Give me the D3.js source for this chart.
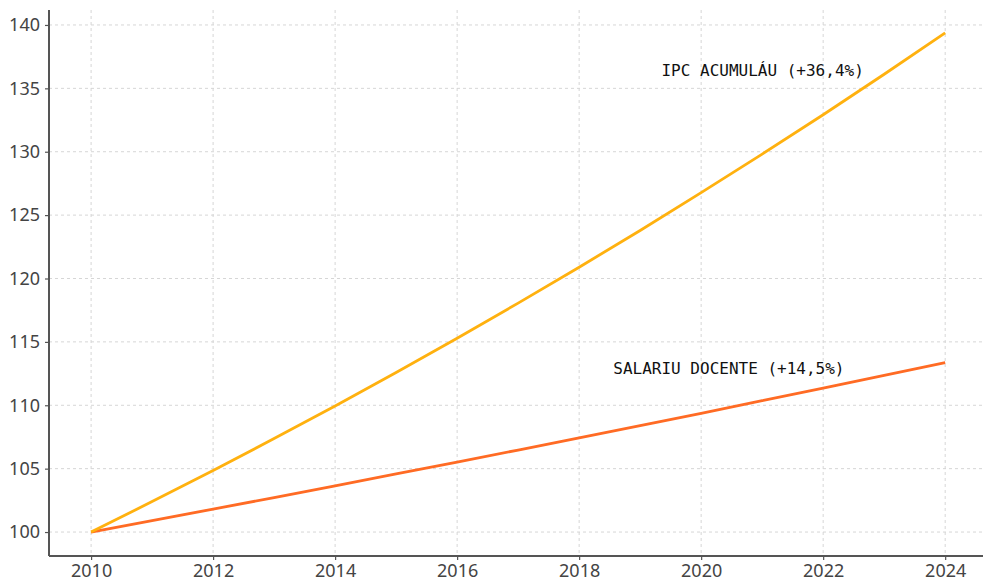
<!DOCTYPE html>
<html>
<head>
<meta charset="UTF-8">
<script src="https://d3js.org/d3.v7.min.js"></script>
<style>
  body { margin: 0; background: #fff; }
  .tick text { font-family: "Noto Sans", sans-serif; font-size: 18px; fill: #444; }
  .lbl { font-family: "DejaVu Sans Mono", monospace; font-size: 16px; fill: #111; }
</style>
</head>
<body>
<script>
    // datos
    var years = [2010, 2011, 2012, 2013, 2014, 2015, 2016, 2017, 2018, 2019, 2020, 2021, 2022, 2023, 2024];
    var ipc = [100, 102.40, 104.86, 107.37, 109.95, 112.59, 115.29, 118.06, 120.89, 123.79, 126.77, 129.81, 132.92, 136.11, 139.38];
    var salariu = [100, 100.90, 101.81, 102.72, 103.65, 104.58, 105.52, 106.47, 107.43, 108.40, 109.37, 110.36, 111.35, 112.35, 113.36];
    var xTicks = [2010, 2012, 2014, 2016, 2018, 2020, 2022, 2024];
    var yTicks = [100, 105, 110, 115, 120, 125, 130, 135, 140];
    var labels = ["IPC ACUMULÁU (+36,4%)", "SALARIU DOCENTE (+14,5%)"];

    var W = 983, H = 581;
    var m = { left: 49, right: 983, top: 10, bottom: 556 };

    var svg = d3.select("body").append("svg")
        .attr("width", W)
        .attr("height", H);

    var x = d3.scaleLinear().domain([2009.31, 2024.62]).range([m.left, m.right]);
    var y = d3.scaleLinear().domain([98.11, 141.18]).range([m.bottom, m.top]);

    // rejilla
    svg.append("g")
        .selectAll("line")
        .data(xTicks).enter()
        .append("line")
        .attr("x1", d => x(d)).attr("x2", d => x(d))
        .attr("y1", m.top).attr("y2", m.bottom)
        .style("stroke", "#d6d6d6").style("stroke-width", 1)
        .style("stroke-dasharray", "3,3");

    svg.append("g")
        .selectAll("line")
        .data(yTicks).enter()
        .append("line")
        .attr("x1", m.left).attr("x2", m.right)
        .attr("y1", d => y(d)).attr("y2", d => y(d))
        .style("stroke", "#d6d6d6").style("stroke-width", 1)
        .style("stroke-dasharray", "3,3");

    // ejes
    var gx = svg.append("g")
        .attr("transform", "translate(0," + m.bottom + ")")
        .call(d3.axisBottom(x).tickValues(xTicks).tickFormat(d3.format("d")).tickSize(4).tickPadding(4));
    var gy = svg.append("g")
        .attr("transform", "translate(" + m.left + ",0)")
        .call(d3.axisLeft(y).tickValues(yTicks).tickSize(4).tickPadding(5));
    [gx, gy].forEach(function (g) {
        g.select(".domain").style("stroke", "#555").style("stroke-width", 2);
        g.selectAll(".tick line").style("stroke", "#555").style("stroke-width", 1.2);
    });
    gx.select(".domain").attr("d", "M" + m.left + ",0H" + m.right);
    gy.select(".domain").attr("d", "M0," + m.top + "V" + m.bottom);

    // lineas
    var line = d3.line()
        .x(function (d, i) { return x(years[i]); })
        .y(function (d) { return y(d); });

    svg.append("path")
        .datum(salariu)
        .attr("d", line)
        .style("fill", "none")
        .style("stroke", "#FF6B24")
        .style("stroke-width", 2.8);

    svg.append("path")
        .datum(ipc)
        .attr("d", line)
        .style("fill", "none")
        .style("stroke", "#FFB10F")
        .style("stroke-width", 2.8);

    // etiquetas
    svg.append("text").attr("class", "lbl")
        .attr("x", x(2019.35)).attr("y", y(136.0))
        .text(labels[0]);
    svg.append("text").attr("class", "lbl")
        .attr("x", x(2018.56)).attr("y", y(112.45))
        .text(labels[1]);
</script>
</body>
</html>
